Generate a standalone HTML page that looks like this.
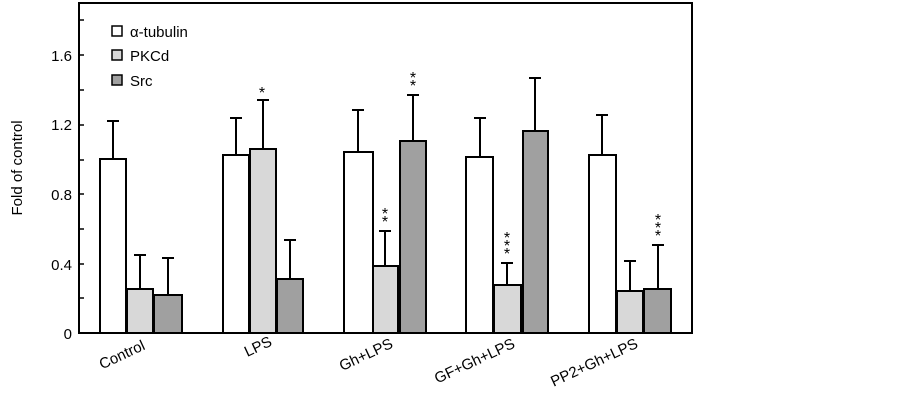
<!DOCTYPE html>
<html><head><style>body{margin:0;background:#fff}</style></head><body>
<svg width="903" height="402" xmlns="http://www.w3.org/2000/svg" font-family="Liberation Sans, sans-serif">
<rect x="79" y="3" width="613" height="330" fill="none" stroke="#000" stroke-width="2"/>
<g stroke="#000" stroke-width="1.5">
<line x1="79" y1="298" x2="84" y2="298"/><line x1="79" y1="264" x2="84" y2="264"/><line x1="79" y1="229" x2="84" y2="229"/><line x1="79" y1="194" x2="84" y2="194"/><line x1="79" y1="160" x2="84" y2="160"/><line x1="79" y1="125" x2="84" y2="125"/><line x1="79" y1="90" x2="84" y2="90"/><line x1="79" y1="55" x2="84" y2="55"/><line x1="79" y1="20" x2="84" y2="20"/>
</g>
<g font-size="15" text-anchor="end" fill="#000">
<text x="72" y="339">0</text><text x="72" y="270">0.4</text><text x="72" y="200">0.8</text><text x="72" y="130">1.2</text><text x="72" y="61">1.6</text>
</g>
<text transform="translate(22,168) rotate(-90)" font-size="15" text-anchor="middle">Fold of control</text>
<g stroke="#000" stroke-width="2">
<g>
<line x1="113" y1="159" x2="113" y2="121"/><line x1="107" y1="121" x2="119" y2="121"/>
<line x1="140" y1="289" x2="140" y2="255"/><line x1="134" y1="255" x2="146" y2="255"/>
<line x1="168" y1="295" x2="168" y2="258"/><line x1="162" y1="258" x2="174" y2="258"/>
<line x1="236" y1="155" x2="236" y2="118"/><line x1="230" y1="118" x2="242" y2="118"/>
<line x1="263" y1="149" x2="263" y2="100"/><line x1="257" y1="100" x2="269" y2="100"/>
<line x1="290" y1="279" x2="290" y2="240"/><line x1="284" y1="240" x2="296" y2="240"/>
<line x1="358" y1="152" x2="358" y2="110"/><line x1="352" y1="110" x2="364" y2="110"/>
<line x1="385" y1="266" x2="385" y2="231"/><line x1="379" y1="231" x2="391" y2="231"/>
<line x1="413" y1="141" x2="413" y2="95"/><line x1="407" y1="95" x2="419" y2="95"/>
<line x1="480" y1="157" x2="480" y2="118"/><line x1="474" y1="118" x2="486" y2="118"/>
<line x1="507" y1="285" x2="507" y2="263"/><line x1="501" y1="263" x2="513" y2="263"/>
<line x1="535" y1="131" x2="535" y2="78"/><line x1="529" y1="78" x2="541" y2="78"/>
<line x1="602" y1="155" x2="602" y2="115"/><line x1="596" y1="115" x2="608" y2="115"/>
<line x1="630" y1="291" x2="630" y2="261"/><line x1="624" y1="261" x2="636" y2="261"/>
<line x1="658" y1="289" x2="658" y2="245"/><line x1="652" y1="245" x2="664" y2="245"/>
</g>
<rect x="100" y="159" width="26" height="174" fill="#fff"/>
<rect x="127" y="289" width="26" height="44" fill="#d8d8d8"/>
<rect x="154" y="295" width="28" height="38" fill="#a0a0a0"/>
<rect x="223" y="155" width="26" height="178" fill="#fff"/>
<rect x="250" y="149" width="26" height="184" fill="#d8d8d8"/>
<rect x="277" y="279" width="26" height="54" fill="#a0a0a0"/>
<rect x="344" y="152" width="29" height="181" fill="#fff"/>
<rect x="373" y="266" width="25" height="67" fill="#d8d8d8"/>
<rect x="400" y="141" width="26" height="192" fill="#a0a0a0"/>
<rect x="466" y="157" width="27" height="176" fill="#fff"/>
<rect x="494" y="285" width="27" height="48" fill="#d8d8d8"/>
<rect x="523" y="131" width="25" height="202" fill="#a0a0a0"/>
<rect x="589" y="155" width="27" height="178" fill="#fff"/>
<rect x="617" y="291" width="26" height="42" fill="#d8d8d8"/>
<rect x="644" y="289" width="27" height="44" fill="#a0a0a0"/>
<rect x="112" y="26" width="10" height="10" fill="#fff" stroke-width="1.5"/>
<rect x="112" y="50" width="10" height="10" fill="#d8d8d8" stroke-width="1.5"/>
<rect x="112" y="75" width="10" height="10" fill="#a0a0a0" stroke-width="1.5"/>
</g>
<g font-size="15"><text x="130" y="37">α-tubulin</text><text x="130" y="61">PKCd</text><text x="130" y="86">Src</text></g>
<g font-size="16" text-anchor="middle">
<text x="262" y="98">*</text>
<text x="413" y="83">*</text><text x="413" y="91">*</text>
<text x="385" y="219">*</text><text x="385" y="227">*</text>
<text x="507" y="243">*</text><text x="507" y="251">*</text><text x="507" y="259">*</text>
<text x="658" y="225">*</text><text x="658" y="233">*</text><text x="658" y="241">*</text>
</g>
<g font-size="15" text-anchor="end">
<text transform="translate(146,349) rotate(-25)">Control</text>
<text transform="translate(273,345) rotate(-25)">LPS</text>
<text transform="translate(394,347) rotate(-25)">Gh+LPS</text>
<text transform="translate(516,347) rotate(-25)">GF+Gh+LPS</text>
<text transform="translate(639,347) rotate(-25)">PP2+Gh+LPS</text>
</g>
</svg>
</body></html>
